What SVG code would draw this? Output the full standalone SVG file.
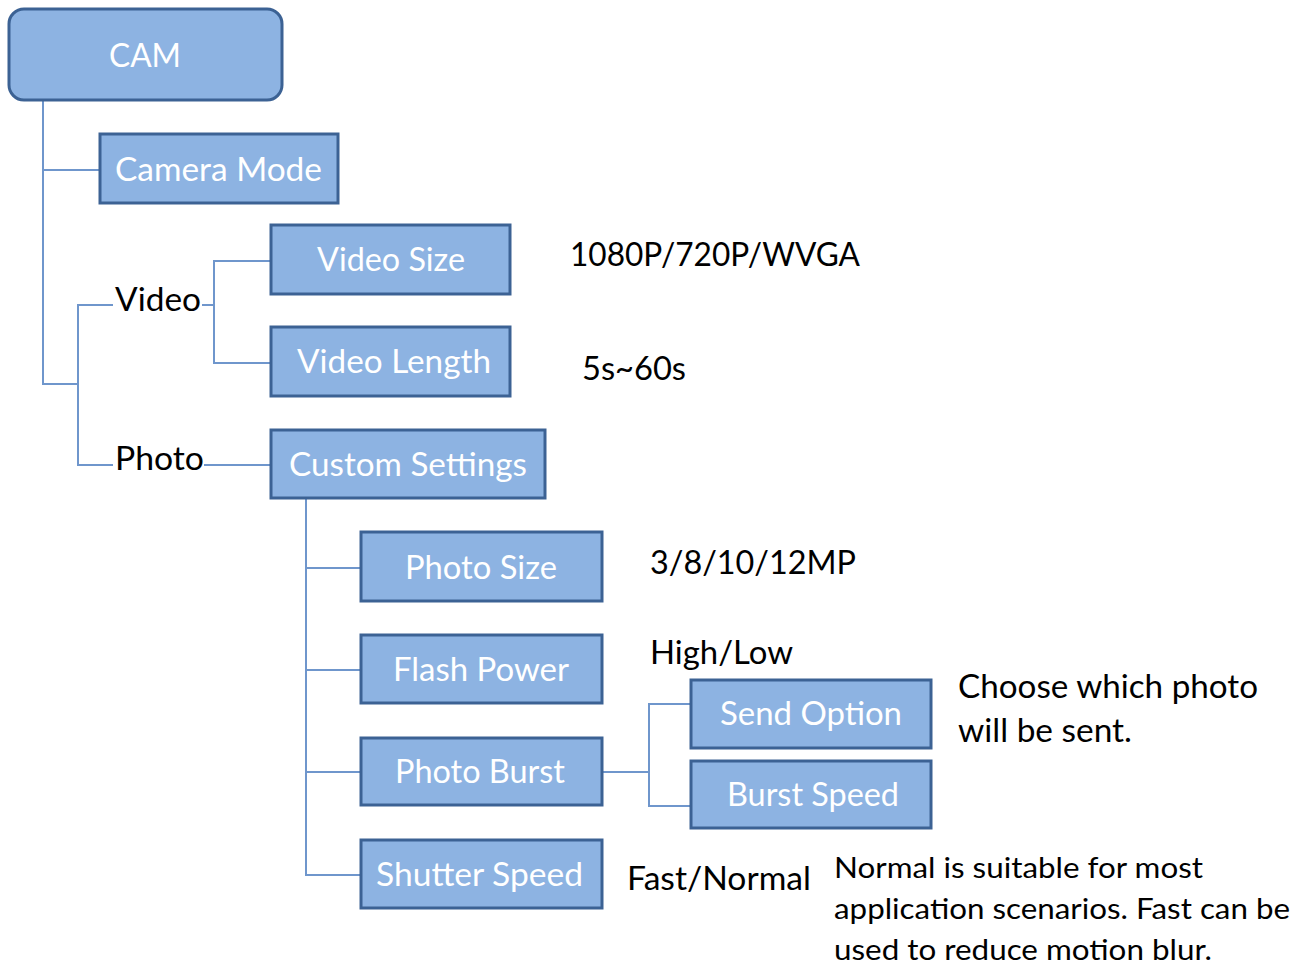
<svg xmlns="http://www.w3.org/2000/svg" width="1306" height="967" viewBox="0 0 1306 967">
<style>
.box{fill:#8db3e2;stroke:#3c6294;stroke-width:3}
.lbl{fill:#ffffff;font-family:Lato,"Open Sans","Liberation Sans",sans-serif;font-size:32px}
.txt{fill:#000000;font-family:Lato,"Open Sans","Liberation Sans",sans-serif;font-size:32px}
.sm{font-size:29px}
.con{fill:none;stroke:#6f96cc;stroke-width:2}
</style>
<rect width="1306" height="967" fill="#ffffff"/>
<g id="connectors">
<path class="con" d="M43,100 V384 H78 M43,170 H100"/>
<path class="con" d="M113,305 H78 V465 H113 M204,465 H271"/>
<path class="con" d="M202,305 H214 M271,261 H214 V363 H271"/>
<path class="con" d="M306,498 V875 H361 M306,568 H361 M306,670 H361 M306,772 H361"/>
<path class="con" d="M602,772 H649 M691,704 H649 V806 H691"/>
</g>
<g id="cam"><rect class="box" x="9" y="9" width="273" height="91" rx="15"/><text class="lbl" x="145" y="67" text-anchor="middle" textLength="72" lengthAdjust="spacingAndGlyphs">CAM</text></g>
<g id="camera-mode"><rect class="box" x="100" y="134" width="238" height="69"/><text class="lbl" x="115" y="181" textLength="207" lengthAdjust="spacingAndGlyphs">Camera Mode</text></g>
<g id="video-label"><text class="txt" x="115" y="311" textLength="86" lengthAdjust="spacingAndGlyphs">Video</text></g>
<g id="photo-label"><text class="txt" x="115" y="470" textLength="89" lengthAdjust="spacingAndGlyphs">Photo</text></g>
<g id="video-size"><rect class="box" x="271" y="225" width="239" height="69"/><text class="lbl" x="317" y="271" textLength="148" lengthAdjust="spacingAndGlyphs">Video Size</text></g>
<g id="video-length"><rect class="box" x="271" y="327" width="239" height="69"/><text class="lbl" x="297" y="373" textLength="194" lengthAdjust="spacingAndGlyphs">Video Length</text></g>
<g id="custom-settings"><rect class="box" x="271" y="430" width="274" height="68"/><text class="lbl" x="289" y="476" textLength="238" lengthAdjust="spacingAndGlyphs">Custom Settings</text></g>
<g id="photo-size"><rect class="box" x="361" y="532" width="241" height="69"/><text class="lbl" x="405" y="579" textLength="152" lengthAdjust="spacingAndGlyphs">Photo Size</text></g>
<g id="flash-power"><rect class="box" x="361" y="635" width="241" height="68"/><text class="lbl" x="393" y="681" textLength="176" lengthAdjust="spacingAndGlyphs">Flash Power</text></g>
<g id="photo-burst"><rect class="box" x="361" y="738" width="241" height="67"/><text class="lbl" x="395" y="783" textLength="170" lengthAdjust="spacingAndGlyphs">Photo Burst</text></g>
<g id="shutter-speed"><rect class="box" x="361" y="840" width="241" height="68"/><text class="lbl" x="376" y="886" textLength="207" lengthAdjust="spacingAndGlyphs">Shutter Speed</text></g>
<g id="send-option"><rect class="box" x="691" y="680" width="240" height="68"/><text class="lbl" x="720" y="725" textLength="182" lengthAdjust="spacingAndGlyphs">Send Option</text></g>
<g id="burst-speed"><rect class="box" x="691" y="761" width="240" height="67"/><text class="lbl" x="727" y="806" textLength="172" lengthAdjust="spacingAndGlyphs">Burst Speed</text></g>
<g id="notes">
<text class="txt" x="570" y="266" textLength="290" lengthAdjust="spacingAndGlyphs">1080P/720P/WVGA</text>
<text class="txt" x="582" y="380" textLength="104" lengthAdjust="spacingAndGlyphs">5s~60s</text>
<text class="txt" x="650" y="574" textLength="206" lengthAdjust="spacingAndGlyphs">3/8/10/12MP</text>
<text class="txt" x="650" y="664" textLength="143" lengthAdjust="spacingAndGlyphs">High/Low</text>
<text class="txt" x="958" y="698" textLength="300" lengthAdjust="spacingAndGlyphs">Choose which photo</text>
<text class="txt" x="958" y="742" textLength="174" lengthAdjust="spacingAndGlyphs">will be sent.</text>
<text class="txt" x="627" y="890" textLength="184" lengthAdjust="spacingAndGlyphs">Fast/Normal</text>
<text class="txt sm" x="834" y="878" textLength="369" lengthAdjust="spacingAndGlyphs">Normal is suitable  for most</text>
<text class="txt sm" x="834" y="919" textLength="456" lengthAdjust="spacingAndGlyphs">application  scenarios.  Fast can be</text>
<text class="txt sm" x="834" y="960" textLength="378" lengthAdjust="spacingAndGlyphs">used to reduce motion blur.</text>
</g>
</svg>
